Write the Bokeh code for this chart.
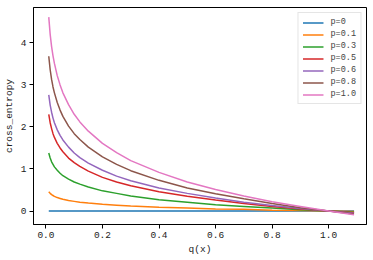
from bokeh.plotting import figure
from bokeh.models import Range1d, FixedTicker, Legend, LegendItem, PrintfTickFormatter
from bokeh.embed import file_html
from bokeh.resources import INLINE

q = [0.01, 0.015, 0.02, 0.025, 0.03, 0.04, 0.05, 0.06, 0.08, 0.10, 0.12, 0.15,
     0.20, 0.25, 0.30, 0.40, 0.50, 0.60, 0.70, 0.80, 0.90, 1.00, 1.09]

ce_p0 = [0.0] * len(q)
ce_p01 = [0.46, 0.42, 0.39, 0.37, 0.35, 0.32, 0.30, 0.28, 0.25, 0.23, 0.21, 0.19,
          0.16, 0.14, 0.12, 0.09, 0.07, 0.05, 0.04, 0.02, 0.01, 0.0, -0.01]
ce_p03 = [1.38, 1.26, 1.17, 1.11, 1.05, 0.97, 0.90, 0.84, 0.76, 0.69, 0.64, 0.57,
          0.48, 0.42, 0.36, 0.27, 0.21, 0.15, 0.11, 0.07, 0.03, 0.0, -0.03]
ce_p05 = [2.30, 2.10, 1.96, 1.84, 1.75, 1.61, 1.50, 1.41, 1.26, 1.15, 1.06, 0.95,
          0.80, 0.69, 0.60, 0.46, 0.35, 0.26, 0.18, 0.11, 0.05, 0.0, -0.04]
ce_p06 = [2.76, 2.52, 2.35, 2.21, 2.10, 1.93, 1.80, 1.69, 1.52, 1.38, 1.27, 1.14,
          0.97, 0.83, 0.72, 0.55, 0.42, 0.31, 0.21, 0.13, 0.06, 0.0, -0.05]
ce_p08 = [3.68, 3.36, 3.13, 2.95, 2.81, 2.58, 2.40, 2.25, 2.02, 1.84, 1.70, 1.52,
          1.29, 1.11, 0.96, 0.73, 0.55, 0.41, 0.29, 0.18, 0.08, 0.0, -0.07]
ce_p10 = [4.61, 4.20, 3.91, 3.69, 3.51, 3.22, 3.00, 2.81, 2.53, 2.30, 2.12, 1.90,
          1.61, 1.39, 1.20, 0.92, 0.69, 0.51, 0.36, 0.22, 0.11, 0.0, -0.09]

labels = ["p=0", "p=0.1", "p=0.3", "p=0.5", "p=0.6", "p=0.8", "p=1.0"]
series = [ce_p0, ce_p01, ce_p03, ce_p05, ce_p06, ce_p08, ce_p10]
colors = ["#1f77b4", "#ff7f0e", "#2ca02c", "#d62728", "#9467bd", "#8c564b", "#e377c2"]

x_ticks = [0.0, 0.2, 0.4, 0.6, 0.8, 1.0]
y_ticks = [0, 1, 2, 3, 4]

FONT = "Liberation Mono"

p = figure(width=373, height=260, output_backend="svg", toolbar_location=None,
           x_range=Range1d(-0.044, 1.134), y_range=Range1d(-0.32, 4.84),
           min_border_left=10, min_border_right=7, min_border_top=7, min_border_bottom=36)

items = []
for lab, ys, c in zip(labels, series, colors):
    r = p.line(q, ys, line_color=c, line_width=1.5)
    items.append(LegendItem(label=lab, renderers=[r]))

legend = Legend(items=items, location="top_right", margin=5,
                label_text_font=FONT, label_text_font_size="8.5px",
                label_height=9, glyph_height=9, glyph_width=21, spacing=2,
                padding=4, label_standoff=7,
                border_line_color="#cccccc", border_line_width=1,
                background_fill_alpha=0.8)
p.add_layout(legend, "center")

p.xgrid.visible = False
p.ygrid.visible = False
p.outline_line_color = "black"
p.outline_line_width = 1

for ax, ticks in ((p.xaxis, x_ticks), (p.yaxis, y_ticks)):
    ax.ticker = FixedTicker(ticks=ticks)
    ax.minor_tick_line_color = None
    ax.major_tick_out = 4
    ax.major_tick_in = 0
    ax.major_label_text_font = FONT
    ax.major_label_text_font_size = "9.5px"
    ax.major_label_text_color = "#222222"
    ax.axis_label_text_font = FONT
    ax.axis_label_text_font_size = "9.5px"
    ax.axis_label_text_font_style = "normal"
    ax.axis_label_text_color = "#222222"
    ax.axis_line_color = "black"

p.xaxis.formatter = PrintfTickFormatter(format="%.1f")
p.yaxis.formatter = PrintfTickFormatter(format="%d")
p.xaxis.axis_label = "q(x)"
p.yaxis.axis_label = "cross_entropy"
p.xaxis.major_label_standoff = 3
p.yaxis.major_label_standoff = 3
p.xaxis.axis_label_standoff = 3
p.yaxis.axis_label_standoff = 3

open("out.html", "w").write(file_html(p, INLINE))
